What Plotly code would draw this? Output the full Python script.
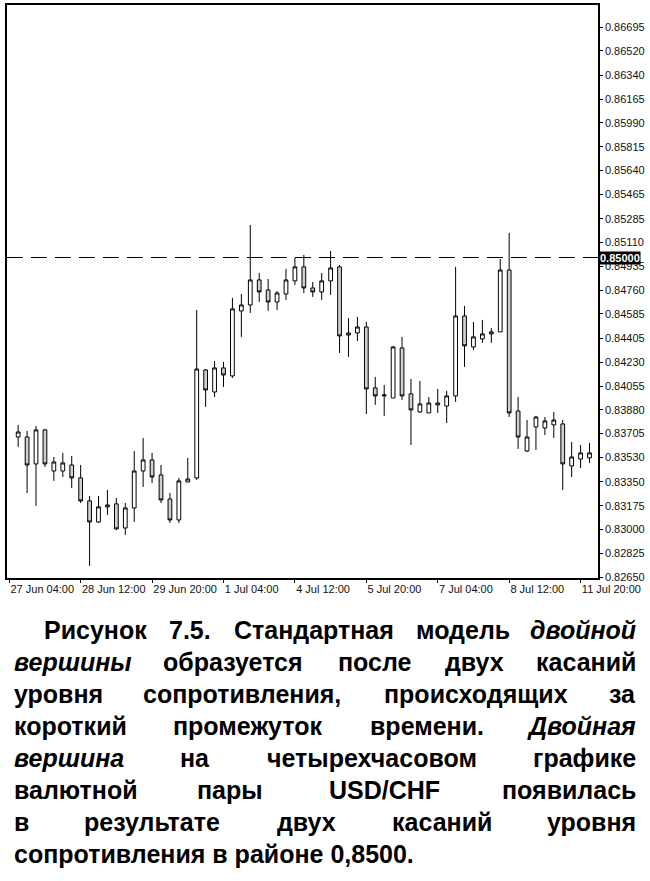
import re
import plotly.graph_objects as go

# USD/CHF, H4 bars, 27 Jun 08:00 .. 12 Jul 00:00
open_ = [0.83680, 0.83680, 0.83482, 0.83732, 0.83430, 0.83430, 0.83474, 0.83379, 0.83210, 0.83055,
         0.83166, 0.83188, 0.83011, 0.83158, 0.83430, 0.83511, 0.83401, 0.83224, 0.83070, 0.83349,
         0.83379, 0.84173, 0.84011, 0.84188, 0.84129, 0.84607, 0.84651, 0.84835, 0.84761, 0.84673,
         0.84732, 0.84828, 0.84931, 0.84776, 0.84747, 0.84828, 0.84931, 0.84430, 0.84445, 0.84489,
         0.84041, 0.83982, 0.83967, 0.84335, 0.83997, 0.83864, 0.83857, 0.83916, 0.83908, 0.83982,
         0.84570, 0.84342, 0.84401, 0.84438, 0.84453, 0.84908, 0.83871, 0.83577, 0.83754, 0.83746,
         0.83769, 0.83776, 0.83467, 0.83518, 0.83526]
high = [0.83769, 0.83724, 0.83761, 0.83739, 0.83533, 0.83563, 0.83541, 0.83474, 0.83246, 0.83246,
        0.83291, 0.83232, 0.83195, 0.83577, 0.83673, 0.83563, 0.83474, 0.83268, 0.83379, 0.83526,
        0.84614, 0.84180, 0.84239, 0.84232, 0.84703, 0.84732, 0.85239, 0.84886, 0.84842, 0.84754,
        0.84916, 0.84997, 0.85019, 0.84820, 0.84886, 0.85048, 0.84945, 0.84555, 0.84563, 0.84526,
        0.84122, 0.84063, 0.84350, 0.84416, 0.84107, 0.84092, 0.83974, 0.84033, 0.84019, 0.84931,
        0.84644, 0.84526, 0.84541, 0.84482, 0.84989, 0.85181, 0.83974, 0.83805, 0.83835, 0.83827,
        0.83864, 0.83805, 0.83643, 0.83621, 0.83636]
low = [0.83607, 0.83268, 0.83173, 0.83460, 0.83357, 0.83386, 0.83305, 0.83195, 0.82732, 0.83048,
       0.83107, 0.82996, 0.82960, 0.83055, 0.83313, 0.83342, 0.83195, 0.83048, 0.83048, 0.83349,
       0.83364, 0.83901, 0.83974, 0.84048, 0.84114, 0.84416, 0.84592, 0.84673, 0.84607, 0.84614,
       0.84688, 0.84798, 0.84739, 0.84710, 0.84688, 0.84725, 0.84298, 0.84269, 0.84386, 0.83849,
       0.83916, 0.83835, 0.83967, 0.83952, 0.83621, 0.83857, 0.83857, 0.83857, 0.83783, 0.83938,
       0.84195, 0.84320, 0.84372, 0.84372, 0.84453, 0.83827, 0.83592, 0.83570, 0.83585, 0.83695,
       0.83673, 0.83291, 0.83386, 0.83452, 0.83489]
close = [0.83717, 0.83474, 0.83732, 0.83482, 0.83496, 0.83489, 0.83379, 0.83210, 0.83055, 0.83166,
         0.83180, 0.83004, 0.83158, 0.83430, 0.83511, 0.83386, 0.83217, 0.83070, 0.83357, 0.83371,
         0.84180, 0.84026, 0.84188, 0.84136, 0.84622, 0.84651, 0.84835, 0.84747, 0.84673, 0.84739,
         0.84835, 0.84931, 0.84776, 0.84747, 0.84828, 0.84923, 0.84423, 0.84445, 0.84489, 0.84033,
         0.83982, 0.83989, 0.84342, 0.83982, 0.83879, 0.83923, 0.83930, 0.83930, 0.83982, 0.84570,
         0.84350, 0.84416, 0.84438, 0.84453, 0.84908, 0.83857, 0.83680, 0.83680, 0.83827, 0.83798,
         0.83805, 0.83482, 0.83533, 0.83563, 0.83563]

time_labels = ["27 Jun 04:00", "28 Jun 12:00", "29 Jun 20:00", "1 Jul 04:00", "4 Jul 12:00",
               "5 Jul 20:00", "7 Jul 04:00", "8 Jul 12:00", "11 Jul 20:00"]
label_bars = [-1, 7, 15, 23, 31, 39, 47, 55, 63]
price_ticks = [0.82650, 0.82825, 0.83000, 0.83175, 0.83350, 0.83530, 0.83705, 0.83880,
               0.84055, 0.84230, 0.84405, 0.84585, 0.84760, 0.84935, 0.85110, 0.85285,
               0.85465, 0.85640, 0.85815, 0.85990, 0.86165, 0.86340, 0.86520, 0.86695]
resistance = 0.85000

caption_lines = [
    ["Рисунок", "7.5.", "Стандартная", "модель", "<i>двойной</i>"],
    ["<i>вершины</i>", "образуется", "после", "двух", "касаний"],
    ["уровня", "сопротивления,", "происходящих", "за"],
    ["короткий", "промежуток", "времени.", "<i>Двойная</i>"],
    ["<i>вершина</i>", "на", "четырехчасовом", "графике"],
    ["валютной", "пары", "USD/CHF", "появилась"],
    ["в", "результате", "двух", "касаний", "уровня"],
]
caption_last = "сопротивления в районе 0,8500."

# figure geometry (px)
W, H = 650, 881
L, R, T, B = 7, 52, 5, 303
pw, ph = W - L - R, H - T - B

fig = go.Figure(go.Candlestick(
    x=list(range(len(open_))), open=open_, high=high, low=low, close=close,
    increasing=dict(line=dict(color="black", width=1), fillcolor="white"),
    decreasing=dict(line=dict(color="black", width=1), fillcolor="#cfcfcf"),
    hoverinfo="skip",
))

fig.add_shape(type="line", xref="paper", yref="y", x0=0, x1=1, y0=resistance, y1=resistance,
              line=dict(color="black", width=1.2, dash="16px,8px"))

# highlighted price label of the level
fig.add_annotation(xref="paper", yref="y", x=1, y=resistance, xanchor="left", xshift=1,
                   text="<b>0.85000</b>", showarrow=False, bgcolor="black",
                   font=dict(color="white", size=11, family="Liberation Sans, Arial"),
                   borderpad=0)

# rough Arial Bold advance widths (em) for justifying the caption
cw = dict(zip("абвгдежзийклмнопрстуфхцчшщъыьэюя",
              [.556, .611, .573, .417, .615, .556, .818, .495, .611, .611, .479, .593, .719, .604,
               .611, .604, .611, .556, .469, .556, .885, .556, .615, .583, .865, .885, .677, .813,
               .563, .556, .823, .573]))
cw.update({".": .278, ",": .278, "/": .278, " ": .278})


def width(word, size):
    w = 0
    for ch in re.sub("<[^>]+>", "", word):
        if ch.isdigit():
            w += .556
        elif ch in cw:
            w += cw[ch]
        elif ch.isupper():
            w += .722
        else:
            w += .6
    return w * size


fsize = 25
cap_font = dict(family="Liberation Sans, Arial", size=fsize, color="black")
line_y = [630, 662, 694, 726, 758, 790, 822]
x_right = 638


def px_x(px):
    return (px - L) / pw


def px_y(py):
    return (H - B - py) / ph


for i, words in enumerate(caption_lines):
    x_left = 42 if i == 0 else 12
    ws = [width(w, fsize) for w in words]
    gap = (x_right - x_left - sum(ws)) / (len(words) - 1)
    pos = x_left
    for j, w in enumerate(words):
        if j == 0:
            x, anchor = pos, "left"
        elif j == len(words) - 1:
            x, anchor = x_right, "right"
        else:
            x, anchor = pos + ws[j] / 2, "center"
        fig.add_annotation(xref="paper", yref="paper", x=px_x(x), y=px_y(line_y[i]),
                           xanchor=anchor, yanchor="middle", text="<b>" + w + "</b>",
                           showarrow=False, font=cap_font)
        pos += ws[j] + gap

fig.add_annotation(xref="paper", yref="paper", x=px_x(12), y=px_y(854), xanchor="left",
                   yanchor="middle", text="<b>" + caption_last + "</b>", showarrow=False,
                   font=cap_font)

axis_font = dict(family="Liberation Sans, Arial", size=11, color="#111111")
fig.update_layout(
    width=W, height=H, margin=dict(l=L, r=R, t=T, b=B, autoexpand=False),
    paper_bgcolor="white", plot_bgcolor="white", showlegend=False,
    boxgap=0.4,
    xaxis=dict(range=[-1.25, 64.95], rangeslider=dict(visible=False), showgrid=False,
               zeroline=False, showline=True, mirror=True, linecolor="black", linewidth=1.5,
               tickvals=label_bars, ticktext=time_labels, ticks="outside", ticklen=3,
               tickcolor="black", ticklabelposition="outside right", tickangle=0,
               automargin=False, tickfont=axis_font),
    yaxis=dict(range=[0.82643, 0.86857], side="right", showgrid=False, zeroline=False,
               showline=True, mirror=True, linecolor="black", linewidth=1.5,
               tickvals=price_ticks, ticktext=[f"{v:.5f}" for v in price_ticks],
               ticks="outside", ticklen=3, tickcolor="black", automargin=False,
               tickfont=axis_font),
)

# the page body has a default 8px margin; drop it so the figure fills the window
fig.write_html("out.html", config={"displayModeBar": False},
               post_script="document.body.style.margin='0';")
